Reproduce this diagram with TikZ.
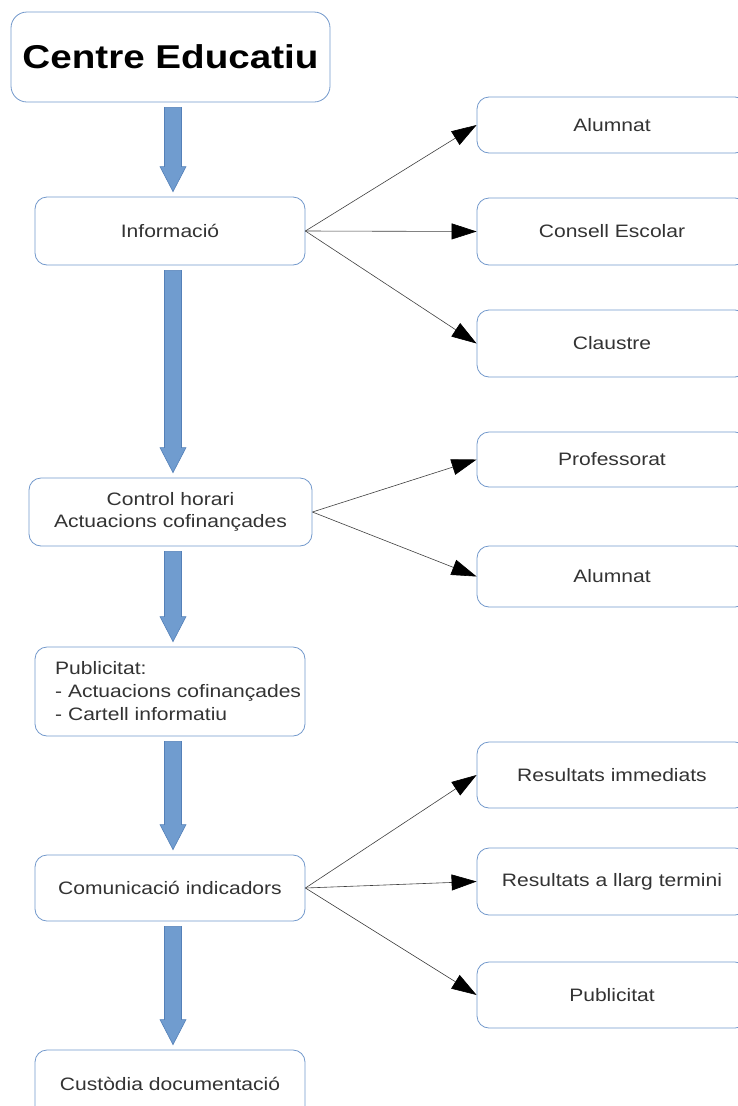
\documentclass[tikz,border=0pt]{standalone}
\usepackage{fontspec}
\setmainfont{Liberation Sans}[FakeStretch=1.17]
\usetikzlibrary{calc}
\usetikzlibrary{arrows.meta}

\tikzset{
  box/.style={draw=boxColor, line width=0.8pt, rounded corners=12pt, fill=white, inner sep=0pt,
    text=textColor, align=center, font=\fontsize{18}{22}\selectfont},
  link/.style={draw=linkColor, line width=0.6pt, -{Triangle[length=25pt,width=16pt,color=black]}},
  bigarrow/.style={fill=arrowFill, draw=arrowLine, line width=0.6pt, line join=miter}
}

\newcommand{\bigarrow}[2]{%
\path[bigarrow] ($(#1.south -| spine)+(-8.5,5)$) -- ($(#2.north -| spine)+(-8.5,-30)$)
  -- ($(#2.north -| spine)+(-13,-30)$) -- ($(#2.north -| spine)+(0,-5)$)
  -- ($(#2.north -| spine)+(13,-30)$) -- ($(#2.north -| spine)+(8.5,-30)$)
  -- ($(#1.south -| spine)+(8.5,5)$) -- cycle;}

\begin{document}
\begin{tikzpicture}[x=1pt,y=-1pt]
\definecolor[named]{boxColor}{rgb}{0.45,0.60,0.80}
\definecolor[named]{textColor}{rgb}{0.20,0.20,0.20}
\definecolor[named]{linkColor}{rgb}{0.25,0.25,0.25}
\definecolor[named]{arrowFill}{rgb}{0.44,0.61,0.81}
\definecolor[named]{arrowLine}{rgb}{0.33,0.50,0.72}
\path[use as bounding box,fill=white] (0,0) rectangle (738,1106);
\begin{scope}
\path[clip] (0,0) rectangle (738,1106);
\coordinate (spine) at (173,0);

\node[box, rounded corners=16pt, minimum width=319pt, minimum height=90pt, text=black,
  font=\fontsize{33}{38}\selectfont\bfseries] (centre) at (170.5,57) {Centre Educatiu};

\node[box, minimum width=270pt, minimum height=68pt] (info) at (170,231) {Informació};
\node[box, minimum width=283pt, minimum height=68pt] (control) at (170.5,512) {Control horari\\Actuacions cofinançades};
\node[box, minimum width=270pt, minimum height=89pt] (publi) at (170,691.5) {};
\node[text=textColor, anchor=west, align=left, inner sep=0pt, font=\fontsize{18}{23}\selectfont]
  (publitext) at (55,691.5) {Publicitat:\\- Actuacions cofinançades\\- Cartell informatiu};
\node[box, minimum width=270pt, minimum height=66pt] (comunic) at (170,888) {Comunicació indicadors};
\node[box, minimum width=270pt, minimum height=68pt] (custodia) at (170,1084) {Custòdia documentació};

\node[box, minimum width=270pt, minimum height=56pt] (alumA) at (612,125) {Alumnat};
\node[box, minimum width=270pt, minimum height=67pt] (consell) at (612,231.5) {Consell Escolar};
\node[box, minimum width=270pt, minimum height=67pt] (claustre) at (612,343.5) {Claustre};
\node[box, minimum width=270pt, minimum height=55pt] (prof) at (612,459.5) {Professorat};
\node[box, minimum width=270pt, minimum height=61pt] (alumB) at (612,576.5) {Alumnat};
\node[box, minimum width=270pt, minimum height=66pt] (resimm) at (612,775) {Resultats immediats};
\node[box, minimum width=270pt, minimum height=67pt] (resllarg) at (612,881.5) {Resultats a llarg termini};
\node[box, minimum width=270pt, minimum height=66pt] (publiB) at (612,995) {Publicitat};

\bigarrow{centre}{info}
\bigarrow{info}{control}
\bigarrow{control}{publi}
\bigarrow{publi}{comunic}
\bigarrow{comunic}{custodia}

\draw[link] (info.east) -- (alumA.west);
\draw[link] (info.east) -- (consell.west);
\draw[link] (info.east) -- (claustre.west);
\draw[link] (control.east) -- (prof.west);
\draw[link] (control.east) -- (alumB.west);
\draw[link] (comunic.east) -- (resimm.west);
\draw[link] (comunic.east) -- (resllarg.west);
\draw[link] (comunic.east) -- (publiB.west);
\end{scope}
\end{tikzpicture}
\end{document}
